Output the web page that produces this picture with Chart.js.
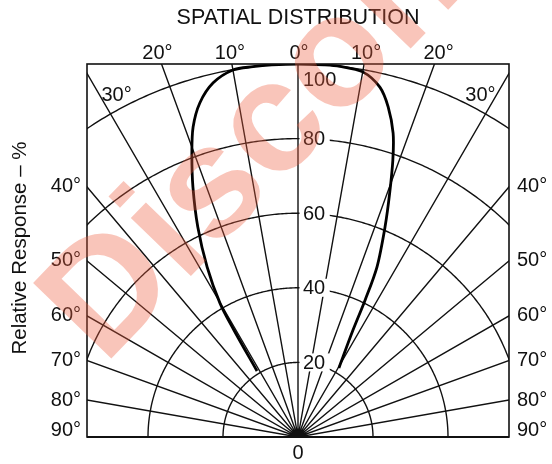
<!DOCTYPE html>
<html><head><meta charset="utf-8">
<script src="https://cdn.jsdelivr.net/npm/chart.js@4/dist/chart.umd.min.js"></script>
<style>html,body{margin:0;padding:0;background:#fff;}#wrap{width:552px;height:464px;position:relative}</style>
</head><body><div id="wrap"><canvas id="c" width="552" height="464"></canvas></div>
<script>
// ---- data ----
const titleText = "SPATIAL DISTRIBUTION";
const yAxisTitle = "Relative Response – %";
const watermarkText = "Discontinued";
// polar curve: angle from axis (deg, negative = left) and relative response (%)
const curveAngles   = [-31.7,-30.8,-30.1,-28.0,-25.4,-22.7,-20.4,-18.6,-16.3,-13.4,-10.0,-6.9,-4.0,0,4.0,6.4,10.0,13.1,15.2,17.3,18.8,20.5,22.4,24.8,26.0,27.1,30.5];
const curveResponse = [20.8,33.4,41.5,51.6,62.3,72.6,81.2,87.7,93.3,97.6,99.9,100,100,100,100,100,99.4,96.3,91.7,85.3,78.5,69.8,60.9,50.2,40.8,32.2,21.5];
// grid
const ringValues = [20,40,60,80,100];
const ringLabels = ["20","40","60","80","100"];
const spokeAngles = [-90,-80,-70,-60,-50,-40,-30,-20,-10,0,10,20,30,40,50,60,70,80,90];
const topAngles = [-20,-10,0,10,20];
const topLabels = ["20°","10°","0°","10°","20°"];
const cornerAngles = [-30,30];
const cornerLabels = ["30°","30°"];
const sideAngles = [40,50,60,70,80,90];
const sideLabels = ["40°","50°","60°","70°","80°","90°"];
const originLabel = "0";
const xHalfRange = 56.27;

const FONT = '"Liberation Sans", Arial, Helvetica, sans-serif';
const rad = d => d*Math.PI/180;
const points = curveAngles.map((a,i)=>({x: curveResponse[i]*Math.sin(rad(a)), y: curveResponse[i]*Math.cos(rad(a))}));

const polarGrid = {
  id:'polarGrid',
  beforeDatasetsDraw(chart){
    const {ctx, chartArea:ca} = chart;
    const xs = chart.scales.x, ys = chart.scales.y;
    const P = (r,a)=>[xs.getPixelForValue(r*Math.sin(rad(a))), ys.getPixelForValue(r*Math.cos(rad(a)))];
    const rMax = ringValues[ringValues.length-1];
    ctx.save();
    ctx.beginPath(); ctx.rect(ca.left, ca.top, ca.right-ca.left, ca.bottom-ca.top); ctx.clip();
    ctx.strokeStyle = '#111'; ctx.lineWidth = 1.4;
    ctx.beginPath();
    spokeAngles.forEach(a=>{ const o=P(0,a), e=P(rMax*1.2,a); ctx.moveTo(o[0],o[1]); ctx.lineTo(e[0],e[1]); });
    ctx.stroke();
    ringValues.forEach(r=>{
      ctx.beginPath();
      for(let a=-90;a<=90;a+=0.5){ const p=P(r,a); if(a===-90) ctx.moveTo(p[0],p[1]); else ctx.lineTo(p[0],p[1]); }
      ctx.stroke();
    });
    // origin blob
    const o = P(0,0);
    ctx.fillStyle='#111'; ctx.beginPath(); ctx.arc(o[0], o[1], 7, Math.PI, 2*Math.PI); ctx.fill();
    ctx.restore();
    // ring labels
    ctx.save();
    ctx.font = '20px '+FONT; ctx.textBaseline='middle'; ctx.textAlign='left';
    ringValues.forEach((r,i)=>{
      const p = P(r,0);
      const w = ctx.measureText(ringLabels[i]).width;
      if(r < rMax){
        ctx.fillStyle='#fff'; ctx.fillRect(o[0]+1.5, p[1]-9, w+8, 18);
        ctx.fillStyle='#111'; ctx.fillText(ringLabels[i], o[0]+5, p[1]+1);
      } else {
        ctx.fillStyle='#111'; ctx.fillText(ringLabels[i], o[0]+5, p[1]+16);
      }
    });
    ctx.restore();
  },
  afterDraw(chart){
    const {ctx, chartArea:ca} = chart;
    const xs = chart.scales.x, ys = chart.scales.y;
    const P = (r,a)=>[xs.getPixelForValue(r*Math.sin(rad(a))), ys.getPixelForValue(r*Math.cos(rad(a)))];
    const o = P(0,0);
    ctx.save();
    // frame
    ctx.strokeStyle='#111'; ctx.lineWidth=1.6;
    ctx.strokeRect(ca.left, ca.top, ca.right-ca.left, ca.bottom-ca.top);
    ctx.lineWidth=2.2; ctx.beginPath(); ctx.moveTo(ca.left, ca.bottom); ctx.lineTo(ca.right, ca.bottom); ctx.stroke();
    ctx.fillStyle='#111';
    // title
    ctx.font='21.5px '+FONT; ctx.textAlign='center'; ctx.textBaseline='middle';
    ctx.fillText(titleText, (ca.left+ca.right)/2, 18);
    // top angle labels (along spoke extension to label line)
    ctx.font='20px '+FONT;
    const labY = 53;
    topAngles.forEach((a,i)=>{
      const dy = ys.getValueForPixel(labY);
      const x = xs.getPixelForValue(dy*Math.tan(rad(a)));
      ctx.textAlign='center';
      ctx.fillText(topLabels[i], x + (a===0?1:0), labY);
    });
    // corner 30° labels
    cornerAngles.forEach((a,i)=>{
      const e = P(ringValues[ringValues.length-1], a);
      ctx.textAlign='center';
      ctx.fillText(cornerLabels[i], e[0] + (a<0?6:-5), e[1]-18);
    });
    // side labels
    sideAngles.forEach((a,i)=>{
      let yv = a>=90 ? 0 : xHalfRange/Math.tan(rad(a));
      let y = Math.min(ys.getPixelForValue(yv), ca.bottom-7);
      ctx.textAlign='right'; ctx.fillText(sideLabels[i], ca.left-6, y);
      ctx.textAlign='left'; ctx.fillText(sideLabels[i], ca.right+8, y);
    });
    // origin label
    ctx.textAlign='center'; ctx.fillText(originLabel, o[0], 453);
    // y axis title
    ctx.save(); ctx.translate(20, 248); ctx.rotate(-Math.PI/2);
    ctx.font='20.5px '+FONT; ctx.textAlign='center'; ctx.fillText(yAxisTitle, 0, 0); ctx.restore();
    // watermark
    ctx.save();
    ctx.translate(104, 366); ctx.rotate(rad(-46));
    ctx.font='bold 158px '+FONT; ctx.textAlign='left'; ctx.textBaseline='alphabetic';
    ctx.fillStyle='rgba(238,95,65,0.36)';
    ctx.fillText(watermarkText, 0, 0);
    ctx.restore();
    ctx.restore();
  }
};

new Chart(document.getElementById('c'), {
  type:'scatter',
  data:{ datasets:[{ data: points, showLine:true, borderColor:'#000', borderWidth:2.8, pointRadius:0, tension:0.3, fill:false }]},
  options:{
    responsive:false, animation:false, devicePixelRatio:1,
    layout:{ padding:{ left:87, right:43, top:64, bottom:27 } },
    scales:{
      x:{ type:'linear', min:-xHalfRange, max:xHalfRange, display:false },
      y:{ type:'linear', min:0, max:100, display:false }
    },
    plugins:{ legend:{display:false}, tooltip:{enabled:false}, title:{display:false} }
  },
  plugins:[polarGrid]
});
</script></body></html>
